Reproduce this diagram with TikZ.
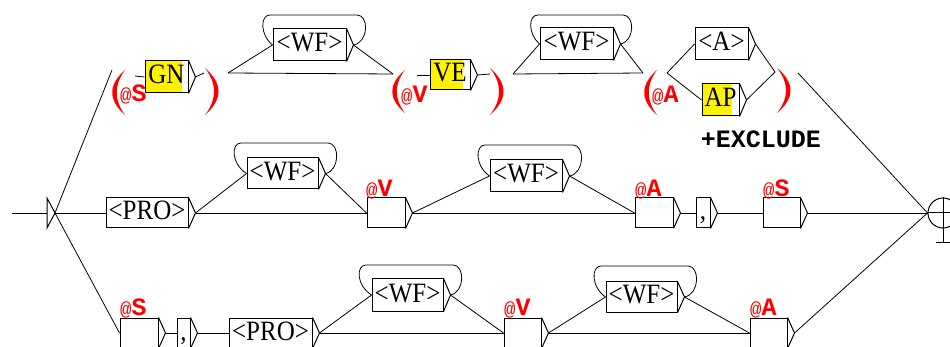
\documentclass[tikz,border=0pt]{standalone}
\usepackage{fontspec}
\usepackage{graphicx}
\setmainfont{Liberation Serif}
\newfontfamily\umono{Liberation Mono}
\tikzset{
  ln/.style={line width=0.8pt},
  ubox/.style={draw, line width=1pt, inner sep=0pt, text height=18pt, text depth=4pt, font=\fontsize{25}{25}\selectfont},
  rl/.style={anchor=base west, inner sep=0pt, text=red},
}
\newcommand\ubox[6]{%
  \node[ubox, minimum width={(#3-#2)*1pt}, minimum height={(#5-#4)*1pt}] (#1) at ({(#2+#3)/2},{(#4+#5)/2}) {\scalebox{1}[1.12]{#6}};
  \coordinate (#1-o) at ([xshift=7pt]#1.east);
  \draw[line width=1pt] (#1.north east) -- (#1-o) -- (#1.south east);
}
\newcommand\uloop[5]{%
  \draw[ln] (#1-o) .. controls (#3+2,#5-3) and (#3+2,#4) .. (#3-10,#4) -- (#2+8,#4) .. controls (#2-2,#4) and (#2-2,#5-10) .. (#1.west);
}
\newcommand\rlab[4]{\node[rl] (#1) at (#2,#3) {{\fontsize{19}{19}\umono @}{\fontsize{25}{25}\umono\bfseries #4}};}
\newcommand\lpar[4]{%
  \fill[red] (#2,#3) .. controls (#1-5,{#3+(#4-#3)/3}) and (#1-5,{#3+2*(#4-#3)/3}) .. (#2,#4)
    .. controls (#1+1,{#3+2*(#4-#3)/3}) and (#1+1,{#3+(#4-#3)/3}) .. (#2,#3);
}
\newcommand\rpar[4]{%
  \fill[red] (#1,#3) .. controls (#2+5,{#3+(#4-#3)/3}) and (#2+5,{#3+2*(#4-#3)/3}) .. (#1,#4)
    .. controls (#2-1,{#3+2*(#4-#3)/3}) and (#2-1,{#3+(#4-#3)/3}) .. (#1,#3);
}
\begin{document}
\begin{tikzpicture}[x=1pt,y=-1pt]
\useasboundingbox (0,0) rectangle (950,347);
% initial state
\coordinate (init) at (55,213);
\coordinate (init-l) at (12,213);
\coordinate (init-b) at (47,213);
\draw[line width=1pt] (47,198) -- (init) -- (47,228) -- cycle;
\draw[ln] (init-l) -- (init-b);
% final state
\node[circle, draw, line width=1pt, minimum size=30pt, inner sep=0pt] (fin) at (943,213) {};
\coordinate (fin-b) at (943,243);
\draw[line width=1pt] (fin.west) -- (fin.east) (fin.north) -- (fin-b) (936,243) -- (950,243);
% ---------- row 1
\coordinate (ps-in) at (112,70);
\lpar{113}{125}{70}{115}
\coordinate (ps-out) at (135,76);
\rlab{ls1}{120}{102}{S}
\fill[yellow] (145,61) rectangle (182,93);
\ubox{gn}{145}{188}{61}{93}{GN}
\draw[ln] (init) -- (ps-in);
\draw[ln] (ps-out) -- (gn.west);
\rpar{205}{218}{68}{115}
\coordinate (gs-in) at (204,73);
\draw[ln] (gn-o) -- (gs-in);
\coordinate (gs-out) at (228,73);
\ubox{wfa}{273}{346}{29}{61}{<WF>}
\uloop{wfa}{262}{367}{15}{45}
\coordinate (pv-in) at (393,74);
\draw[ln] (gs-out) -- (pv-in);
\draw[ln] (gs-out) -- (wfa.west);
\draw[ln] (wfa-o) -- (pv-in);
\lpar{393}{405}{70}{113}
\rlab{lv1}{401}{103}{V}
\coordinate (pv-out) at (417,75);
\fill[yellow] (430,60) rectangle (463,90);
\ubox{ve}{430}{470}{60}{90}{VE}
\draw[ln] (pv-out) -- (ve.west);
\coordinate (vs-in) at (490,74);
\draw[ln] (ve-o) -- (vs-in);
\rpar{490}{503}{68}{115}
\coordinate (vs-out) at (513,74);
\ubox{wfb}{540}{613}{28}{60}{<WF>}
\uloop{wfb}{530}{633}{15}{44}
\coordinate (pa-in) at (643,73);
\draw[ln] (vs-out) -- (pa-in);
\draw[ln] (vs-out) -- (wfb.west);
\draw[ln] (wfb-o) -- (pa-in);
\lpar{645}{657}{70}{115}
\rlab{la1}{652}{103}{A}
\coordinate (pa-out) at (667,73);
\ubox{aa}{695}{748}{28}{60}{<A>}
\fill[yellow] (702,84) rectangle (732,116);
\ubox{ap}{702}{739}{84}{116}{AP}
\draw[ln] (pa-out) -- (aa.west);
\draw[ln] (pa-out) -- (ap.west);
\coordinate (as-in) at (775,72);
\draw[ln] (aa-o) -- (as-in);
\draw[ln] (ap-o) -- (as-in);
\rpar{777}{790}{68}{113}
\coordinate (as-out) at (798,73);
\draw[ln] (as-out) -- (fin.west);
\node[font={\fontsize{25}{25}\umono\bfseries}, inner sep=0pt] (excl) at (761,139) {+EXCLUDE};
% ---------- row 2
\ubox{pro}{106}{188}{198}{228}{<PRO>}
\draw[ln] (init) -- (pro.west);
\ubox{wfc}{247}{318}{158}{189}{<WF>}
\uloop{wfc}{233}{338}{143}{173.5}
\ubox{v2}{367}{405}{198}{228}{}
\rlab{lv2}{366}{197}{V}
\draw[ln] (pro-o) -- (wfc.west);
\draw[ln] (pro-o) -- (v2.west);
\draw[ln] (wfc-o) -- (v2.west);
\ubox{wfd}{490}{562}{160}{192}{<WF>}
\uloop{wfd}{477}{583}{145}{176}
\ubox{a2}{635}{673}{198}{228}{}
\rlab{la2}{635}{197}{A}
\draw[ln] (v2-o) -- (wfd.west);
\draw[ln] (v2-o) -- (a2.west);
\draw[ln] (wfd-o) -- (a2.west);
\ubox{c2}{696}{710}{198}{228}{,}
\draw[ln] (a2-o) -- (c2.west);
\ubox{s2}{763}{800}{198}{228}{}
\rlab{ls2}{763}{197}{S}
\draw[ln] (c2-o) -- (s2.west);
\draw[ln] (s2-o) -- (fin.west);
% ---------- row 3
\ubox{s3}{120}{158}{318}{348}{}
\rlab{ls3}{120}{316}{S}
\draw[ln] (init) -- (s3.west);
\ubox{c3}{177}{190}{318}{348}{,}
\draw[ln] (s3-o) -- (c3.west);
\ubox{pro3}{229}{312}{318}{348}{<PRO>}
\draw[ln] (c3-o) -- (pro3.west);
\ubox{wfe}{372}{443}{279}{311}{<WF>}
\uloop{wfe}{358}{463}{265}{295}
\ubox{v3}{504}{541}{318}{348}{}
\rlab{lv3}{504}{316}{V}
\draw[ln] (pro3-o) -- (wfe.west);
\draw[ln] (pro3-o) -- (v3.west);
\draw[ln] (wfe-o) -- (v3.west);
\ubox{wff}{606}{677}{282}{312}{<WF>}
\uloop{wff}{593}{698}{266}{297}
\ubox{a3}{750}{787}{318}{348}{}
\rlab{la3}{750}{316}{A}
\draw[ln] (v3-o) -- (wff.west);
\draw[ln] (v3-o) -- (a3.west);
\draw[ln] (wff-o) -- (a3.west);
\draw[ln] (a3-o) -- (fin.west);
\end{tikzpicture}
\end{document}
